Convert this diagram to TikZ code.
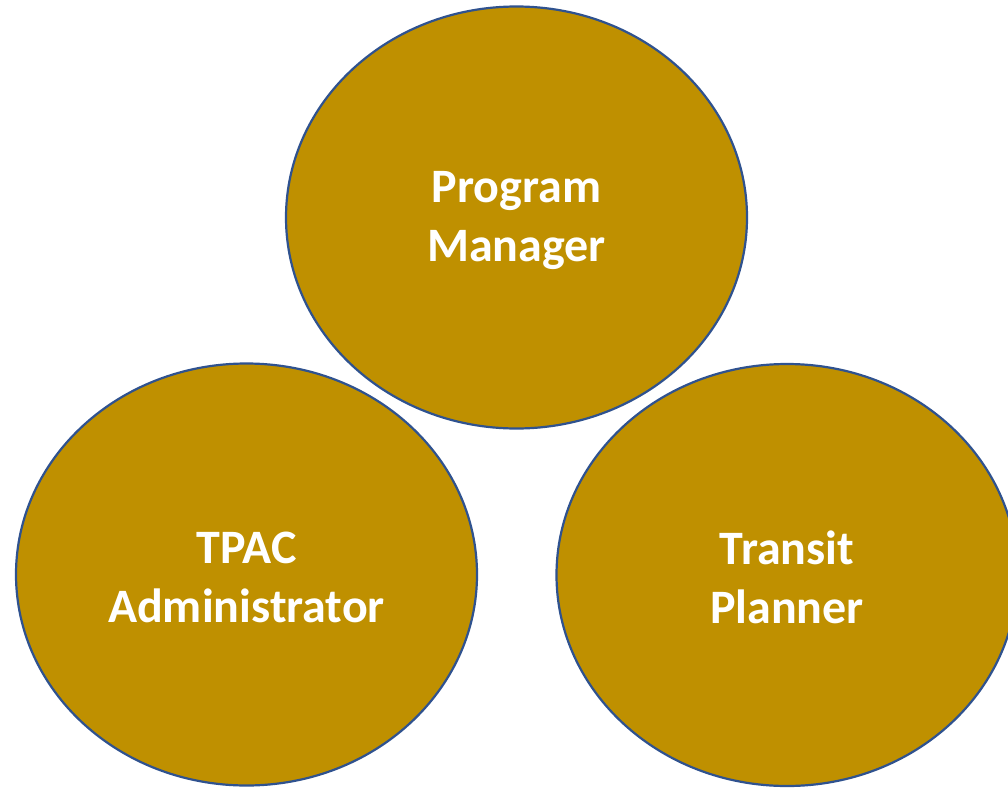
\documentclass[tikz,border=0pt]{standalone}
\usepackage{fontspec}
\setmainfont{Carlito}
\usetikzlibrary{shapes.geometric}
\definecolor{roleGold}{HTML}{BF9000}
\definecolor{roleBlue}{HTML}{2F528F}
\newcommand{\roleTop}{\rule{0pt}{38pt}}

\begin{document}
\begin{tikzpicture}[x=1pt,y=-1pt,
    role/.style={ellipse, draw=roleBlue, fill=roleGold, line width=2.2pt,
        minimum width=461pt, minimum height=422pt, inner sep=0pt,
        align=center, text=white, font=\fontsize{48}{59}\selectfont\bfseries}]
    \useasboundingbox (0,0) rectangle (1008,787);
    % the three roles
    \node[role] (manager) at (516.5,217.5) {\roleTop Program\\Manager};
    \node[role] (tpac) at (246.5,574.5) {\roleTop TPAC\\Administrator};
    \node[role] (planner) at (787,575) {\roleTop Transit\\Planner};
\end{tikzpicture}
\end{document}
